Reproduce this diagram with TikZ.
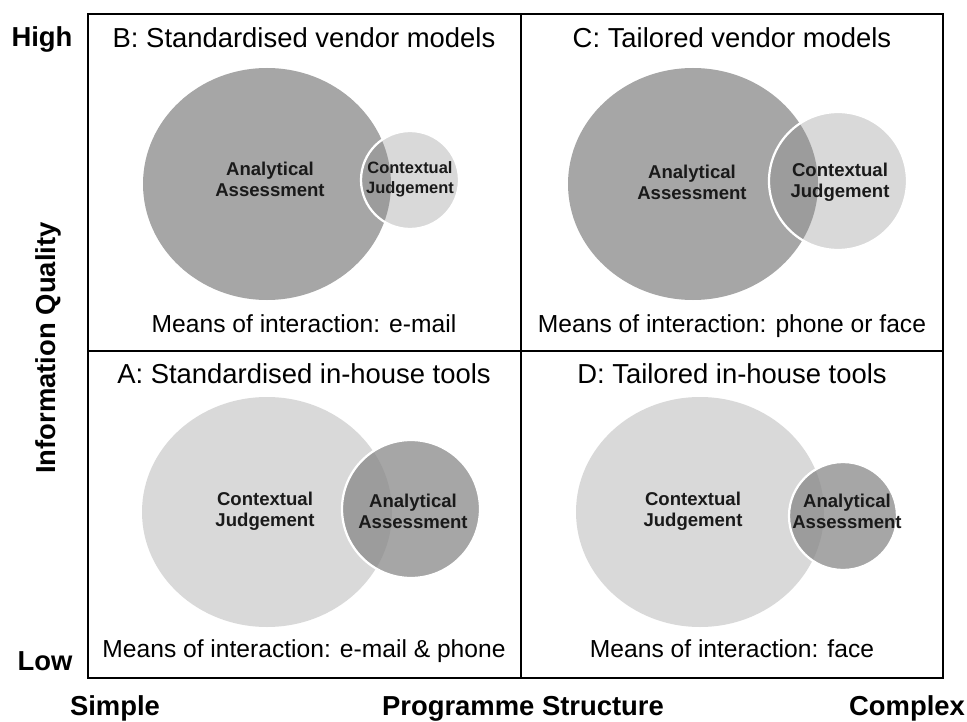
\documentclass[tikz,border=0pt]{standalone}
\usepackage{fontspec}
\setmainfont{Liberation Sans}
\usetikzlibrary{backgrounds}
\definecolor{darkfill}{HTML}{A6A6A6}
\definecolor{lightfill}{HTML}{D9D9D9}
\definecolor{overlapfill}{HTML}{9C9C9C}
\definecolor{inkgray}{HTML}{1A1A1A}
\tikzset{
  quad title/.style={font=\fontsize{19.5}{23}\selectfont, anchor=base},
  means node/.style={font=\fontsize{17.5}{21}\selectfont, anchor=base},
  venn label/.style={font=\bfseries\fontsize{13.2}{15}\selectfont, align=center, text=inkgray},
  axis label/.style={font=\bfseries\fontsize{19.5}{23}\selectfont, anchor=base},
  grid line/.style={line width=2.1pt},
  small ring/.style={draw=white, line width=1.6pt}
}

\begin{document}
\begin{tikzpicture}[x=0.025cm, y=-0.025cm, background rectangle/.style={fill=white}, show background rectangle]
    \useasboundingbox (0,0) rectangle (967,722);

    % B: top left
    \fill[darkfill] (267,184) ellipse [x radius=124, y radius=116];
    \fill[lightfill] (410,180) circle [radius=49];
    \begin{scope}
      \clip (267,184) ellipse [x radius=124, y radius=116];
      \fill[overlapfill] (410,180) circle [radius=49];
    \end{scope}
    \draw[small ring] (410,180) circle [radius=49];

    % C: top right
    \fill[darkfill] (693,184) ellipse [x radius=125, y radius=116];
    \fill[lightfill] (838,181) circle [radius=69];
    \begin{scope}
      \clip (693,184) ellipse [x radius=125, y radius=116];
      \fill[overlapfill] (838,181) circle [radius=69];
    \end{scope}
    \draw[small ring] (838,181) circle [radius=69];

    % A: bottom left
    \fill[lightfill] (267,512) ellipse [x radius=125, y radius=115];
    \fill[darkfill] (411,509) circle [radius=69];
    \begin{scope}
      \clip (267,512) ellipse [x radius=125, y radius=115];
      \fill[overlapfill] (411,509) circle [radius=69];
    \end{scope}
    \draw[small ring] (411,509) circle [radius=69];

    % D: bottom right
    \fill[lightfill] (700,512) ellipse [x radius=124, y radius=115];
    \fill[darkfill] (843,516) circle [radius=54];
    \begin{scope}
      \clip (700,512) ellipse [x radius=124, y radius=115];
      \fill[overlapfill] (843,516) circle [radius=54];
    \end{scope}
    \draw[small ring] (843,516) circle [radius=54];

    % quadrant frame
    \draw[grid line] (88,14) rectangle (943,678);
    \draw[grid line] (521,14) -- (521,678);
    \draw[grid line] (88,351) -- (943,351);

    \draw (304,48) node[quad title] (titleB) {B: Standardised vendor models};
    \draw (732,48) node[quad title] (titleC) {C: Tailored vendor models};
    \draw (304,383) node[quad title] (titleA) {A: Standardised in-house tools};
    \draw (732,383) node[quad title] (titleD) {D: Tailored in-house tools};

    \draw (270,179) node[venn label] (anaB) {Analytical\\Assessment};
    \draw (410,179) node[venn label, font=\bfseries\fontsize{11.7}{14}\selectfont] (conB) {Contextual\\Judgement};
    \draw (692,182) node[venn label] (anaC) {Analytical\\Assessment};
    \draw (840,182) node[venn label] (conC) {Contextual\\Judgement};
    \draw (265,511) node[venn label] (conA) {Contextual\\Judgement};
    \draw (413,511) node[venn label] (anaA) {Analytical\\Assessment};
    \draw (693,511) node[venn label] (conD) {Contextual\\Judgement};
    \draw (847,511) node[venn label] (anaD) {Analytical\\Assessment};

    \draw (304,332) node[means node] (meansB) {Means of interaction: e-mail};
    \draw (732,332) node[means node] (meansC) {Means of interaction: phone or face};
    \draw (304,657) node[means node] (meansA) {Means of interaction: e-mail \& phone};
    \draw (732,657) node[means node] (meansD) {Means of interaction: face};

    \draw (42,47) node[axis label] (high) {High};
    \draw (45,670) node[axis label] (low) {Low};
    \draw (55,348) node[axis label, rotate=90] (quality) {Information Quality};
    \draw (115,715) node[axis label] (simple) {Simple};
    \draw (523,715) node[axis label] (structure) {Programme Structure};
    \draw (907,715) node[axis label] (complex) {Complex};
\end{tikzpicture}
\end{document}
